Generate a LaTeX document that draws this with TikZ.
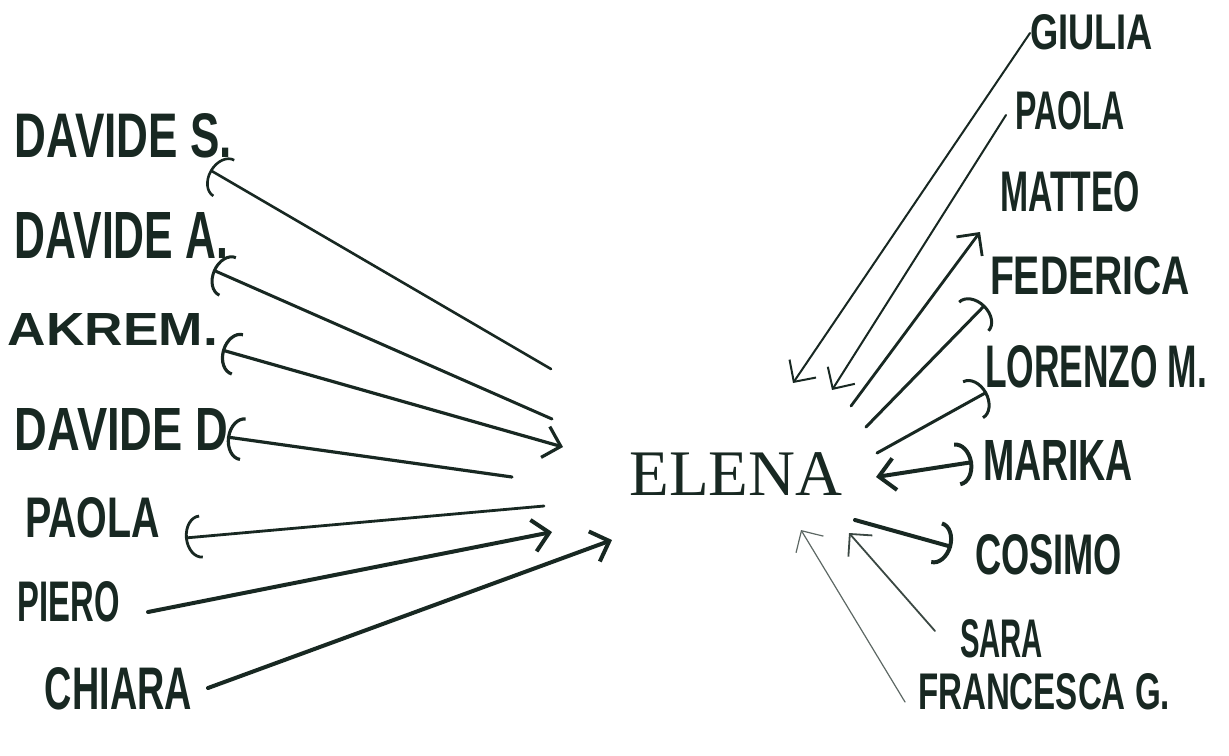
\documentclass[tikz,border=0pt]{standalone}
\usepackage{fontspec}
\usepackage{graphicx}
\newfontfamily\handfont{Liberation Sans}
\newfontfamily\printfont{Liberation Serif}
\usetikzlibrary{arrows.meta}
\definecolor{ink}{RGB}{24,40,34}
\newdimen\pxu \pxu=0.5pt
\newcommand{\hw}[3]{\resizebox{#1\pxu}{#2\pxu}{\handfont\bfseries #3}}
\tikzset{
  cb/.tip={Arc Barb[length=8pt,width=22pt]},
  sb/.tip={Straight Barb[length=8pt,width=16pt]},
  lbl/.style={inner sep=0pt, outer sep=0pt, text=ink},
  conn/.style={draw=ink, line cap=round, line join=round},
}
\begin{document}
\begin{tikzpicture}[x=0.5pt,y=-0.5pt]
\useasboundingbox (0,0) rectangle (1229,755);
% centre
\node[text=ink,inner sep=0pt] (el) at (736,474.5) {\printfont\fontsize{32.5}{39}\selectfont ELENA};
% left names
\node[lbl,anchor=south east] (ds) at (232,158) {\hw{217}{44}{DAVIDE S.}};
\node[lbl,anchor=south east] (da) at (228,258) {\hw{213}{46}{DAVIDE A.}};
\node[lbl,anchor=south east] (ak) at (218,345) {\hw{210}{32}{AKREM.}};
\node[lbl,anchor=south east] (dd) at (228,450) {\hw{213}{42}{DAVIDE D}};
\node[lbl,anchor=south east] (pl) at (160,538) {\hw{135}{40}{PAOLA}};
\node[lbl,anchor=south east] (pi) at (120,622) {\hw{102}{40}{PIERO}};
\node[lbl,anchor=south east] (ch) at (192,710) {\hw{147}{42}{CHIARA}};
% right names
\node[lbl,anchor=south west] (gi) at (1030,50) {\hw{123}{35}{GIULIA}};
\node[lbl,anchor=south west] (pr) at (1015,130) {\hw{110}{38}{PAOLA}};
\node[lbl,anchor=south west] (ma) at (1000,212) {\hw{140}{40}{MATTEO}};
\node[lbl,anchor=south west] (fe) at (990,295) {\hw{200}{38}{FEDERICA}};
\node[lbl,anchor=south west] (lo) at (985,388) {\hw{222}{42}{LORENZO M.}};
\node[lbl,anchor=south west] (mr) at (983,480) {\hw{150}{40}{MARIKA}};
\node[lbl,anchor=south west] (co) at (975,575) {\hw{147}{40}{COSIMO}};
\node[lbl,anchor=south west] (sa) at (960,658) {\hw{83}{38}{SARA}};
\node[lbl,anchor=south west] (fr) at (918,710) {\hw{252}{36}{FRANCESCA G.}};
% free ends near ELENA
\coordinate (eDS) at (551,369);
\coordinate (eDA) at (552,419);
\coordinate (eAK) at (563,447);
\coordinate (eDD) at (512,477);
\coordinate (ePA) at (544,506);
\coordinate (ePI) at (552,532);
\coordinate (eCH) at (612,540);
\coordinate (eGI) at (793,383);
\coordinate (ePR) at (832,390);
\coordinate (eMA) at (851,406);
\coordinate (eFE) at (866,427);
\coordinate (eLO) at (877,453);
\coordinate (eMR) at (876,477);
\coordinate (eCO) at (855,520);
\coordinate (eSA) at (849,533);
\coordinate (eFR) at (801,530);
% left connectors
\draw[conn,line width=1.3pt,-cb] (eDS) -- ([shift={(-22,12)}]ds.south east);
\draw[conn,line width=1.5pt,-cb] (eDA) -- ([shift={(-15,12)}]da.south east);
\draw[conn,line width=1.6pt,cb-sb] ([shift={(4,5)}]ak.south east) -- (eAK);
\draw[conn,line width=1.6pt,-cb] (eDD) -- ([shift={(-1,-13)}]dd.south east);
\draw[conn,line width=1.4pt,-cb] (ePA) -- ([shift={(25,0)}]pl.south east);
\draw[conn,line width=2pt,-sb] ([shift={(28,-10)}]pi.south east) -- (ePI);
\draw[conn,line width=2pt,-sb] ([shift={(16,-22)}]ch.south east) -- (eCH);
% right connectors
\draw[conn,line width=1pt,-sb] ([shift={(0,-17)}]gi.south west) -- (eGI);
\draw[conn,line width=1pt,-sb] ([shift={(-9,-15)}]pr.south west) -- (ePR);
\draw[conn,line width=1.4pt,-sb] (eMA) -- ([shift={(-20,20)}]ma.south west);
\draw[conn,line width=1.5pt,-cb] (eFE) -- ([shift={(-5,10)}]fe.south west);
\draw[conn,line width=1.5pt,-cb] (eLO) -- ([shift={(2,4)}]lo.south west);
\draw[conn,line width=2pt,sb-cb] (eMR) -- ([shift={(-10,-18)}]mr.south west);
\draw[conn,line width=2pt,-cb] (eCO) -- ([shift={(-23,-28)}]co.south west);
\draw[conn,draw=ink!85,line width=0.9pt,-sb] ([shift={(-25,-27)}]sa.south west) -- (eSA);
\draw[conn,draw=ink!70,line width=0.6pt,-sb] ([shift={(-13,-8)}]fr.south west) -- (eFR);
\end{tikzpicture}
\end{document}
